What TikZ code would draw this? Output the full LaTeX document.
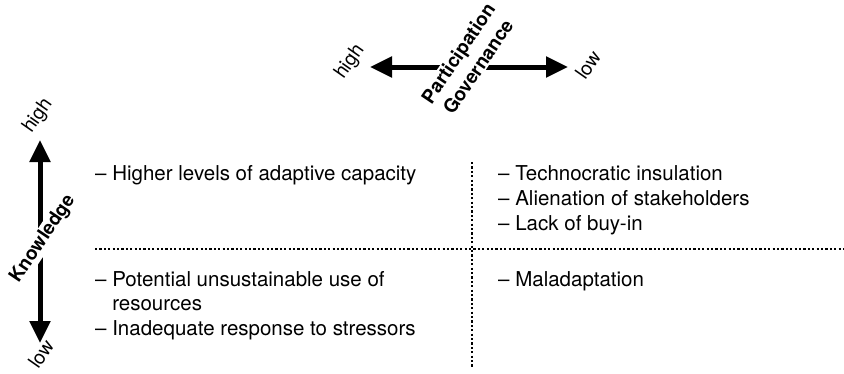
\documentclass[tikz,border=0pt]{standalone}
\usepackage{fontspec}
\setmainfont{TeX Gyre Heros}
\usetikzlibrary{arrows.meta}
\begin{document}
\begin{tikzpicture}[x=1pt,y=-1pt,
  axis/.style={line width=5pt,{Triangle[length=22pt,width=20pt]}-{Triangle[length=22pt,width=20pt]}},
  axistitle/.style={font=\fontsize{19}{24}\selectfont\bfseries, fill=white, inner sep=1pt, rotate=56, align=center},
  axisend/.style={font=\fontsize{19.5}{20}\selectfont, rotate=55, inner sep=0pt},
  grid/.style={line width=2.2pt, dash pattern=on 2.2pt off 2.2pt},
  item/.style={font=\fontsize{20.5}{24.5}\selectfont, anchor=base west, inner sep=0pt}
]
\useasboundingbox (0,0) rectangle (844,373);

% quadrant separators
\coordinate (hA) at (95,249);
\coordinate (hB) at (844,249);
\coordinate (vA) at (472,162);
\coordinate (vB) at (472,368);
\draw[grid] (hA) -- (hB);
\draw[grid] (vA) -- (vB);

% knowledge axis
\coordinate (kTop) at (40,140);
\coordinate (kBot) at (40,343);
\draw[axis] (kBot) -- (kTop);
\node[axistitle] (know) at (43,239) {Knowledge};
\node[axisend] (khigh) at (38,116) {high};
\node[axisend] (klow) at (41,354) {low};

% participation axis
\coordinate (pL) at (370,67);
\coordinate (pR) at (568,67);
\draw[axis] (pL) -- (pR);
\node[axistitle] (part) at (468,60) {Participation\\Governance};
\node[axisend] (phigh) at (350,62) {high};
\node[axisend] (plow) at (588,65) {low};

% quadrant contents
\node[item] (q1a) at (95,180) {– Higher levels of adaptive capacity};
\node[item] (q2a) at (498,180) {– Technocratic insulation};
\node[item] (q2b) at (498,205) {– Alienation of stakeholders};
\node[item] (q2c) at (498,230) {– Lack of buy-in};
\node[item] (q3a) at (95,286.5) {– Potential unsustainable use of};
\node[item] (q3b) at (95,310.5) {\phantom{–}\ resources};
\node[item] (q3c) at (95,335) {– Inadequate response to stressors};
\node[item] (q4a) at (498,286.5) {– Maladaptation};
\end{tikzpicture}
\end{document}
